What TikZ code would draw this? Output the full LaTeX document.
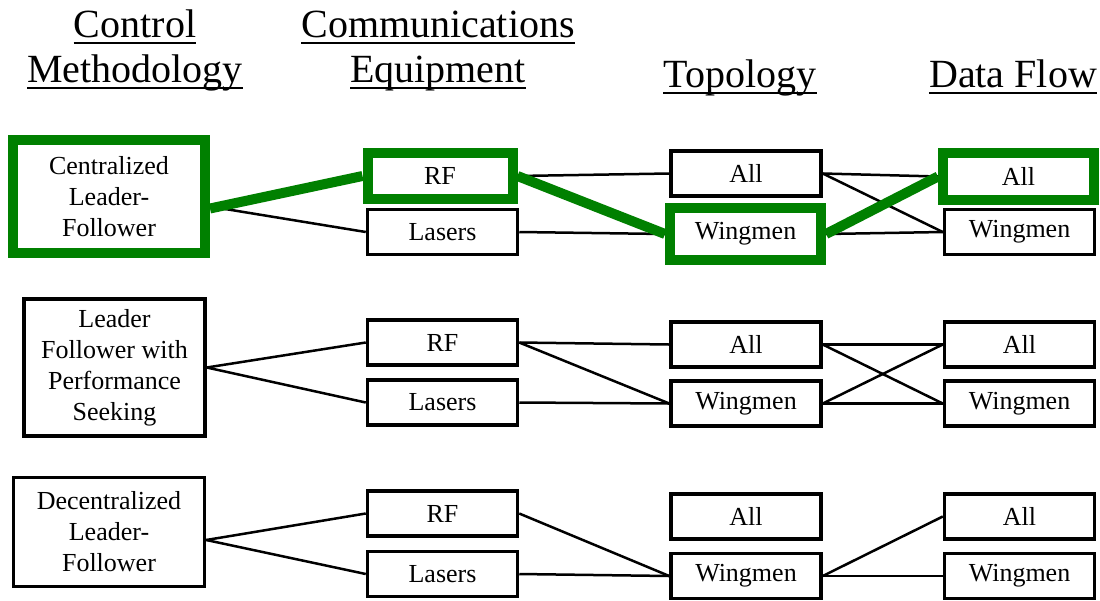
\documentclass[tikz,border=0pt]{standalone}
\usepackage{fontspec}
\setmainfont{Liberation Serif}
\definecolor{hlgreen}{RGB}{0,128,0}
\pgfdeclarelayer{back}
\pgfdeclarelayer{bg}
\pgfsetlayers{back,bg,main}
\begin{document}
\begin{tikzpicture}[x=1pt,y=-1pt,
  hdr/.style={font=\fontsize{40}{44}\selectfont, inner sep=0pt, anchor=base},
  uline/.style={line width=2pt},
  box/.style={draw, line width=3.5pt, minimum width=150pt, minimum height=45pt, inner sep=0pt, font=\fontsize{26}{31}\selectfont, align=center, fill=white},
  hl/.style={draw=hlgreen, line width=10pt},
  conn/.style={line width=2.5pt},
  hlconn/.style={draw=hlgreen, line width=10pt},
]
\begin{pgfonlayer}{back}
\useasboundingbox[fill=white] (0,0) rectangle (1100,596);
\end{pgfonlayer}

% headers
\node[hdr] (h1a) at (135,37) {Control};
\node[hdr] (h1b) at (135,82) {Methodology};
\node[hdr] (h2a) at (438,37) {Communications};
\node[hdr] (h2b) at (438,82) {Equipment};
\node[hdr] (h3) at (740,87) {Topology};
\node[hdr] (h4) at (1013,87) {Data Flow};
\foreach \h in {h1a,h1b,h2a,h2b,h3,h4}
  \draw[uline] ([yshift=-6pt]\h.base west) -- ([yshift=-6pt]\h.base east);

% group 1
\node[box, hl, minimum width=192pt, minimum height=113pt] (c1) at (109,196.5) {Centralized\\Leader-\\Follower};
\node[box, hl, minimum width=145pt, minimum height=46pt] (rf1) at (440,176) {RF};
\node[box] (las1) at (442.5,232) {Lasers};
\node[box] (ta1) at (746,173.5) {All};
\node[box, hl, minimum width=151pt, minimum height=52pt] (tw1) at (745.5,234) {Wingmen};
\node[box, hl, minimum width=151pt, minimum height=47pt] (da1) at (1018.5,176.5) {All};
\node[box] (dw1) at (1019.5,232) {Wingmen};

% group 2
\node[box, minimum width=181pt, minimum height=137pt] (c2) at (114.5,367.5) {Leader\\Follower with\\Performance\\Seeking};
\node[box] (rf2) at (442.5,342.5) {RF};
\node[box] (las2) at (442.5,402.5) {Lasers};
\node[box] (ta2) at (746,344.5) {All};
\node[box] (tw2) at (746,403.5) {Wingmen};
\node[box] (da2) at (1019.5,344.5) {All};
\node[box] (dw2) at (1019.5,403.5) {Wingmen};

% group 3
\node[box, minimum width=191pt, minimum height=109pt] (c3) at (109,532) {Decentralized\\Leader-\\Follower};
\node[box] (rf3) at (442.5,513.5) {RF};
\node[box] (las3) at (442.5,574) {Lasers};
\node[box] (ta3) at (746,516.5) {All};
\node[box] (tw3) at (746,576) {Wingmen};
\node[box] (da3) at (1019.5,516.5) {All};
\node[box] (dw3) at (1019.5,576) {Wingmen};

\begin{pgfonlayer}{bg}
% group 1
\draw[conn] ([yshift=-10pt]c1.east) -- (las1.west);
\draw[conn] (rf1.east) -- (ta1.west);
\draw[conn] (las1.east) -- (tw1.west);
\draw[conn] (ta1.east) -- (da1.west);
\draw[conn] (ta1.east) -- (dw1.west);
\draw[conn] (tw1.east) -- (dw1.west);
\draw[hlconn] ([yshift=-12pt]c1.east) -- (rf1.west);
\draw[hlconn] (rf1.east) -- (tw1.west);
\draw[hlconn] (tw1.east) -- (da1.west);
% group 2
\draw[conn] (c2.east) -- (rf2.west);
\draw[conn] (c2.east) -- (las2.west);
\draw[conn] (rf2.east) -- (ta2.west);
\draw[conn] (rf2.east) -- (tw2.west);
\draw[conn] (las2.east) -- (tw2.west);
\draw[conn] (ta2.east) -- (da2.west);
\draw[conn] (ta2.east) -- (dw2.west);
\draw[conn] (tw2.east) -- (da2.west);
\draw[conn] (tw2.east) -- (dw2.west);
% group 3
\draw[conn] ([yshift=-8pt]c3.east) -- (rf3.west);
\draw[conn] ([yshift=-8pt]c3.east) -- (las3.west);
\draw[conn] (rf3.east) -- (tw3.west);
\draw[conn] (las3.east) -- (tw3.west);
\draw[conn] (tw3.east) -- (da3.west);
\draw[conn] (tw3.east) -- (dw3.west);
\end{pgfonlayer}
\end{tikzpicture}
\end{document}
